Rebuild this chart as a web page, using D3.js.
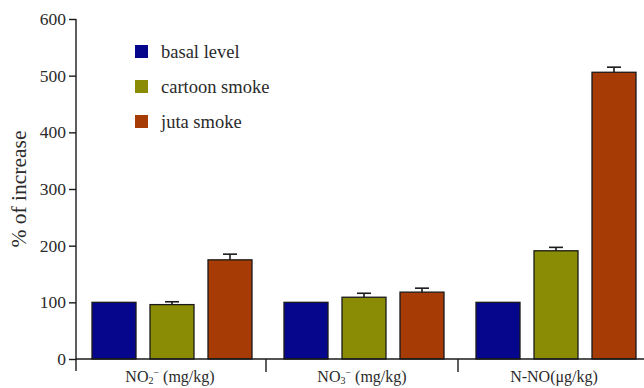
<!DOCTYPE html>
<html>
<head>
<meta charset="utf-8">
<script src="https://cdn.jsdelivr.net/npm/d3@7/dist/d3.min.js"></script>
<style>
  html, body { margin: 0; padding: 0; background: #fff; }
  svg text { font-family: "Liberation Serif", "Times New Roman", "DejaVu Serif", serif; }
</style>
</head>
<body>
<svg id="chart" width="644" height="388"></svg>
<script>
// Measured parameters (groups on the x axis)
const groups = ["no2", "no3", "nno"];
// Treatments shown as bars within each group
const series = ["basal level", "cartoon smoke", "juta smoke"];
// Mean % of increase per treatment, one value per group
const basal   = [100, 100, 100];
const cartoon = [96, 109, 191];
const juta    = [175, 118, 506];
// Upper error (SEM) per treatment
const basalErr   = [0, 0, 0];
const cartoonErr = [5, 7, 6];
const jutaErr    = [10, 7, 9];
// Y axis ticks
const yTicks = [0, 100, 200, 300, 400, 500, 600];

const colors = ["#06068c", "#8a8c06", "#a63b06"];
const serifFont = "Liberation Serif, Times New Roman, DejaVu Serif, serif";

const values = [basal, cartoon, juta];
const errs = [basalErr, cartoonErr, jutaErr];
const rows = [];
groups.forEach((g, gi) => {
  series.forEach((s, si) => {
    rows.push({ group: g, series: s, si, value: values[si][gi], err: errs[si][gi] });
  });
});

const svg = d3.select("#chart");

const y = d3.scaleLinear().domain([0, 600]).range([359, 19]);
const x0 = d3.scaleBand().domain(groups).range([76, 652]);
const x1 = d3.scaleBand().domain(series).range([16, 176]).paddingInner(0.2414).paddingOuter(0);

// Bars
svg.append("g").selectAll("rect")
  .data(rows)
  .join("rect")
  .attr("x", d => x0(d.group) + x1(d.series))
  .attr("y", d => y(d.value))
  .attr("width", x1.bandwidth())
  .attr("height", d => y(0) - y(d.value))
  .attr("fill", d => colors[d.si])
  .attr("stroke", "#1a1a1a")
  .attr("stroke-width", 1.3);

// Error bars (upper only)
const eb = svg.append("g").attr("stroke", "#1a1a1a").attr("stroke-width", 1.6);
rows.filter(d => d.err > 0).forEach(d => {
  const cx = x0(d.group) + x1(d.series) + x1.bandwidth() / 2;
  eb.append("line").attr("x1", cx).attr("x2", cx)
    .attr("y1", y(d.value)).attr("y2", y(d.value + d.err));
  eb.append("line").attr("x1", cx - 7).attr("x2", cx + 7)
    .attr("y1", y(d.value + d.err)).attr("y2", y(d.value + d.err));
});

// Y axis
const yAxis = svg.append("g")
  .attr("transform", "translate(76,0)")
  .call(d3.axisLeft(y).tickValues(yTicks).tickSize(7).tickPadding(3).tickSizeOuter(0));
yAxis.attr("font-family", serifFont).attr("font-size", 17.5);
yAxis.select(".domain").remove();
yAxis.append("line").attr("x1", 0).attr("x2", 0).attr("y1", y(600)).attr("y2", 371)
  .attr("stroke", "#1a1a1a").attr("stroke-width", 1.4);
yAxis.selectAll(".tick line").attr("stroke", "#1a1a1a").attr("stroke-width", 1.4);
yAxis.selectAll(".tick text").attr("fill", "#2a2a2a");

// X axis baseline and group separator ticks
svg.append("line").attr("x1", 76).attr("x2", 644).attr("y1", y(0)).attr("y2", y(0))
  .attr("stroke", "#1a1a1a").attr("stroke-width", 1.4);
svg.append("g").selectAll("line")
  .data(groups.slice(1))
  .join("line")
  .attr("x1", d => x0(d) - 2).attr("x2", d => x0(d) - 2)
  .attr("y1", y(0)).attr("y2", 372)
  .attr("stroke", "#1a1a1a").attr("stroke-width", 1.4);

// Group labels with chemical notation
const lab = svg.append("g").attr("fill", "#2a2a2a").attr("font-size", 16);
function ionLabel(cx, sub) {
  const t = lab.append("text").attr("x", cx).attr("y", 382).attr("text-anchor", "middle");
  t.append("tspan").text("NO");
  t.append("tspan").attr("dy", 2).attr("font-size", 10).text(sub);
  t.append("tspan").attr("dy", -8).attr("font-size", 10).text("\u2212");
  t.append("tspan").attr("dy", 6).text(" (mg/kg)");
}
const gc = g => x0(g) + x0.bandwidth() / 2 - 2;
ionLabel(gc("no2"), "2");
ionLabel(gc("no3"), "3");
lab.append("text").attr("x", gc("nno")).attr("y", 382).attr("text-anchor", "middle")
  .text("N-NO(\u03bcg/kg)");

// Y axis title
svg.append("text")
  .attr("transform", `translate(26,${(y(0) + y(600)) / 2}) rotate(-90)`)
  .attr("text-anchor", "middle")
  .attr("fill", "#2a2a2a")
  .attr("font-size", 21.5)
  .text("% of increase");

// Legend
const legend = svg.append("g").selectAll("g")
  .data(series)
  .join("g")
  .attr("transform", (d, i) => `translate(135,${45 + i * 35})`);
legend.append("rect").attr("width", 13).attr("height", 13)
  .attr("fill", (d, i) => colors[i]);
legend.append("text").attr("x", 26).attr("y", 12.5)
  .attr("fill", "#2a2a2a").attr("font-size", 18.5)
  .text(d => d);
</script>
</body>
</html>
